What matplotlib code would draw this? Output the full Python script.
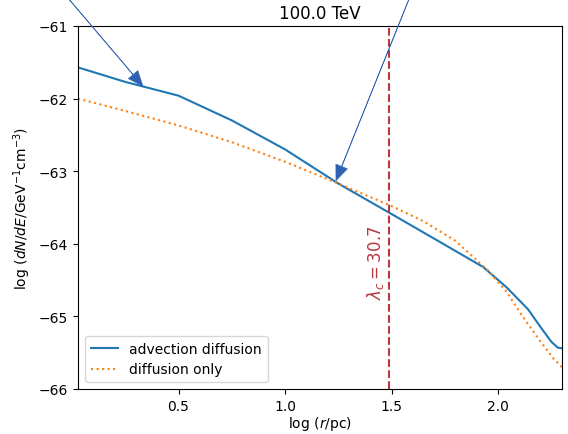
import numpy as np
import matplotlib
matplotlib.use("Agg")
import matplotlib.pyplot as plt

# log(r/pc) and log(dN/dE)
x_adv = [0.028, 0.25, 0.5, 0.75, 1.0, 1.25, 1.5, 1.73, 1.93, 2.04, 2.14, 2.20, 2.25, 2.28, 2.30]
y_adv = [-61.57, -61.77, -61.96, -62.30, -62.70, -63.17, -63.59, -63.98, -64.32, -64.60,
         -64.90, -65.15, -65.35, -65.43, -65.44]

x_diff = [0.028, 0.25, 0.5, 0.75, 1.0, 1.25, 1.5, 1.65, 1.80, 1.95, 2.04, 2.11, 2.20, 2.26, 2.30]
y_diff = [-62.00, -62.17, -62.37, -62.60, -62.87, -63.17, -63.48, -63.69, -63.96, -64.36, -64.66,
          -64.98, -65.35, -65.58, -65.70]

lambda_c = 30.7
energy = 100.0

# arrow tips (on the curve) and tails (above the figure)
arrow_tips = [(0.333, -61.83), (1.239, -63.13)]
arrow_tails = [(-0.174, -60.08), (1.657, -60.08)]

fig = plt.figure(figsize=(5.68, 4.35), dpi=100)
ax = fig.add_axes([78 / 568, 45 / 435, 484 / 568, 363 / 435])

ax.plot(x_adv, y_adv, color='C0', label='advection diffusion')
ax.plot(x_diff, y_diff, color='C1', linestyle=':', label='diffusion only')

lc = np.log10(lambda_c)
ax.axvline(lc, color='#b83840', linestyle='--', linewidth=1.5)
ax.text(lc - 0.015, -64.25, r'$\lambda_c = $' + f'{lambda_c}', color='#b83840',
        rotation=90, ha='right', va='center', fontsize=12)

for tip, tail in zip(arrow_tips, arrow_tails):
    ax.annotate('', xy=tip, xytext=tail, annotation_clip=False,
                arrowprops=dict(color='#2f62b3', width=0.3, lw=0.4,
                                headwidth=9, headlength=11))

ax.set_xlim(0.028, 2.30)
ax.set_ylim(-66, -61)
ax.set_xticks([0.5, 1.0, 1.5, 2.0])
ax.set_yticks([-66, -65, -64, -63, -62, -61])
ax.set_xlabel(r'$\log\,(r/\mathrm{pc})$', labelpad=1)
ax.set_ylabel(r'$\log\,(dN/dE/\mathrm{GeV}^{-1}\mathrm{cm}^{-3})$')
ax.set_title(f'{energy} TeV')
ax.legend(loc='lower left')

fig.savefig('out.png', dpi=100)
